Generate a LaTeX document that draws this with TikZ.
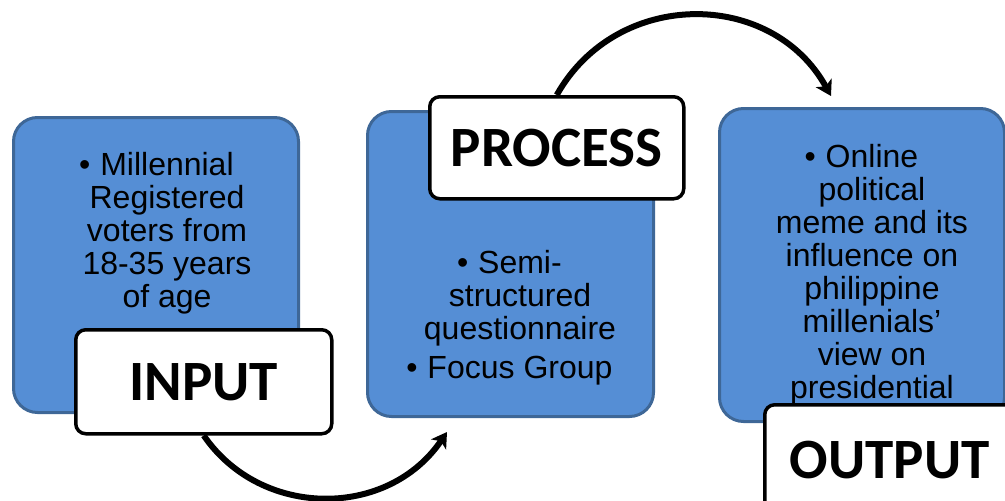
\documentclass[tikz,border=0pt]{standalone}
\usepackage{fontspec}
\setmainfont{Liberation Sans}
\newfontfamily\labelfont{Carlito}
\usetikzlibrary{arrows.meta}
\definecolor{boxblue}{HTML}{558ED5}
\definecolor{boxedge}{HTML}{3E6797}
\begin{document}
\begin{tikzpicture}[x=1pt,y=-1pt,
  bluebox/.style={draw=boxedge, line width=3pt, fill=boxblue, rounded corners=24pt, anchor=north west, inner sep=0pt},
  labelbox/.style={draw=black, line width=3.5pt, fill=white, rounded corners=10pt, anchor=north west, inner sep=0pt,
    font={\labelfont\bfseries\fontsize{57}{60}\selectfont}},
  bodytext/.style={align=center, inner sep=0pt, anchor=north, font={\fontsize{32}{33}\selectfont}},
  flow/.style={line width=6pt, -{Stealth[length=15pt,width=18pt,inset=4pt]}}]
\path[use as bounding box] (0,0) rectangle (1005,501);
\clip (0,0) rectangle (1005,501);
% blue boxes
\node[bluebox, minimum width=285pt, minimum height=295pt] (b1) at (12,116) {};
\node[bluebox, minimum width=286pt, minimum height=305pt] (b2) at (366,110) {};
\node[bluebox, minimum width=285pt, minimum height=313pt] (b3) at (718,107) {};
% texts
\node[bodytext] (t1) at (167,152) {\llap{\textbullet\hspace{10pt}}Millennial\\Registered\\voters from\\18-35 years\\of age};
\node[bodytext] (t2) at (520,250) {\llap{\textbullet\hspace{10pt}}Semi-\\structured\\questionnaire\\[6pt]\llap{\textbullet\hspace{10pt}}Focus Group};
\node[bodytext] (t3) at (872,144) {\llap{\textbullet\hspace{10pt}}Online\\political\\meme and its\\influence on\\philippine\\millenials'\\view on\\presidential};
% label boxes
\node[labelbox, minimum width=256pt, minimum height=104pt] (inp) at (74,328) {INPUT};
\node[labelbox, minimum width=254pt, minimum height=102pt] (proc) at (428,95) {PROCESS};
\node[labelbox, minimum width=250pt, minimum height=110pt] (outp) at (763,403) {OUTPUT};
% arrows
\coordinate (a1e) at (831,96);
\coordinate (a2e) at (447,432);
\draw[flow] (proc.north) .. controls (617,-12) and (772,-11) .. (a1e);
\draw[flow] (inp.south) .. controls (261,519) and (388,519) .. (a2e);
\end{tikzpicture}
\end{document}
